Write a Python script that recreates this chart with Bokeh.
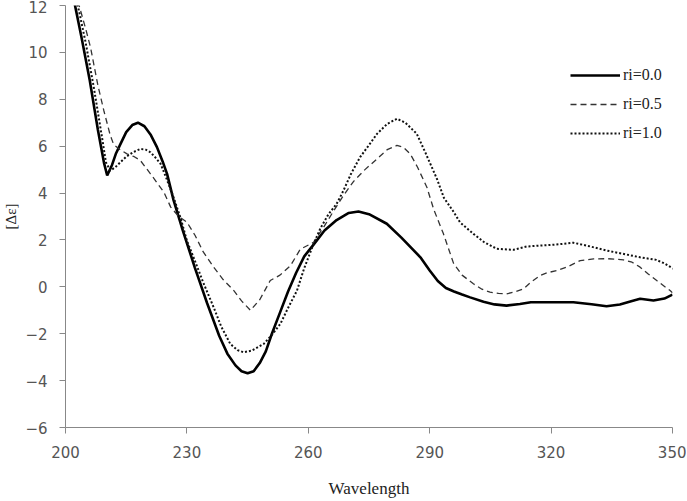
from bokeh.plotting import figure
from bokeh.models import Range1d, FixedTicker, Legend, LegendItem
from bokeh.embed import file_html
from bokeh.resources import INLINE

# r_i = 0.0 (solid)
x_r00 = [200, 202, 204, 206, 208, 209.5, 210.3, 211.5, 212.5, 213.6, 215, 216.5, 217.9, 219.5, 221,
         222.6, 224, 225.1, 226.7, 229,
         232, 235, 238, 240, 242, 243.5, 245, 246.5, 248, 249.5, 251, 253, 255, 257, 259, 261.3, 264, 267, 270,
         272.4, 275, 279.4, 283, 287.7, 290, 292, 294, 296, 298, 300, 303.3, 306, 309, 312.3, 315,
         317.3, 321, 325.5, 330, 333.7, 337, 340, 342, 345.3, 348, 350]
y_r00 = [14.0, 12.3, 10.6, 8.8, 6.7, 5.3, 4.75, 5.2, 5.7, 6.1, 6.6, 6.9, 7.0, 6.85, 6.5,
         5.96, 5.35, 4.82, 3.7, 2.4,
         0.8, -0.7, -2.1, -2.85, -3.35, -3.6, -3.69, -3.6, -3.25, -2.75, -2.0, -1.1, -0.2, 0.6, 1.3, 1.8, 2.4, 2.85, 3.15,
         3.21, 3.1, 2.69, 2.1, 1.26, 0.7, 0.25, -0.05, -0.2, -0.33, -0.45, -0.64, -0.75, -0.80, -0.73, -0.66,
         -0.66, -0.66, -0.66, -0.74, -0.83, -0.75, -0.6, -0.51, -0.58, -0.5, -0.33]

# r_i = 0.5 (dashed)
x_r05 = [200, 202, 203.7, 205, 206.2, 208, 209.5, 211, 211.9, 213.5, 215.2, 217, 218.5, 221, 224.3, 226, 228,
         230, 232, 234, 236.6, 239, 241.6, 243.5, 245.7, 248, 250.6, 253, 255.6, 258, 261.3, 264,
         266.3, 268.7, 271.2, 274, 277, 279.5, 281.9, 283.5, 285.2, 287, 289.3, 291, 293.4, 295.9,
         298, 300.8, 302.9, 304.9, 307, 309, 311, 313.2, 315, 317.3, 319, 321.4, 324, 327.2, 330.5,
         334, 337.9, 340, 342, 344, 346.1, 349.4, 350]
y_r05 = [13.8, 12.8, 11.8, 11.0, 10.2, 8.6, 7.5, 6.5, 6.07, 5.85, 5.67, 5.55, 5.39, 4.82, 4.04, 3.4, 3.0,
         2.76, 2.2, 1.5, 0.84, 0.3, -0.16, -0.6, -1.0, -0.55, 0.27, 0.5, 0.9, 1.6, 1.9, 2.6,
         3.25, 3.9, 4.5, 5.0, 5.46, 5.85, 6.03, 5.95, 5.67, 5.1, 4.25, 3.3, 2.26, 1.0,
         0.5, 0.13, -0.1, -0.23, -0.28, -0.30, -0.22, -0.09, 0.2, 0.48, 0.6, 0.69, 0.85, 1.12, 1.19,
         1.2, 1.15, 1.05, 0.84, 0.55, 0.27, -0.16, -0.25]

# r_i = 1.0 (dotted)
x_r10 = [200, 202, 203.3, 205, 207, 209, 210, 211.1, 212.3, 213.6, 215, 216.8, 218.5, 219.8, 221, 222.3, 223.5, 225,
         226.7, 228.5, 230, 232, 234, 236.6, 238.5, 240.7, 242.5, 244, 246, 249, 251, 253.1, 255,
         257.2, 259, 261.3, 263, 265, 267, 268.7, 270.5, 272.8, 275, 277, 279.5, 281.9, 284, 286.8,
         289, 291.8, 293.5, 295.9, 297.5, 300.8, 303.5, 306.6, 310.7, 314, 317.3, 321, 325.5, 329,
         333.7, 338, 342, 346, 348, 350.2]
y_r10 = [14.2, 12.6, 11.8, 10.4, 8.5, 6.4, 5.3, 4.96, 5.1, 5.32, 5.55, 5.75, 5.88, 5.85, 5.74, 5.5, 5.25, 4.6,
         3.82, 2.9, 1.97, 1.1, 0.2, -0.87, -1.7, -2.43, -2.7, -2.79, -2.72, -2.43, -2.05, -1.58, -0.9,
         -0.16, 0.8, 1.83, 2.5, 3.1, 3.54, 4.11, 4.8, 5.53, 6.05, 6.53, 6.95, 7.17, 7.0, 6.53,
         5.7, 4.6, 3.8, 3.2, 2.75, 2.26, 1.9, 1.62, 1.58, 1.72, 1.76, 1.8, 1.88, 1.75,
         1.55, 1.4, 1.26, 1.15, 1.0, 0.77]

labels = ["ri=0.0", "ri=0.5", "ri=1.0"]
x_ticks = [200, 230, 260, 290, 320, 350]
y_ticks = [-6, -4, -2, 0, 2, 4, 6, 8, 10, 12]

p = figure(width=686, height=500, output_backend="svg", toolbar_location=None,
           x_range=Range1d(200, 350), y_range=Range1d(-6, 12),
           min_border_left=65, min_border_right=14, min_border_top=5, min_border_bottom=73)
p.outline_line_color = None
p.xgrid.visible = False
p.ygrid.visible = False
p.background_fill_color = "white"

r0 = p.line(x_r00, y_r00, line_color="black", line_width=2.6)
r1 = p.line(x_r05, y_r05, line_color="#333333", line_width=1.3, line_dash="6 4")
r2 = p.line(x_r10, y_r10, line_color="#111111", line_width=2.0, line_dash="2 2")

for ax in (p.xaxis[0], p.yaxis[0]):
    ax.axis_line_color = "#888888"
    ax.major_tick_line_color = "#888888"
    ax.minor_tick_line_color = None
    ax.major_tick_out = 6
    ax.major_tick_in = 0
    ax.major_label_text_font = "DejaVu Sans"
    ax.major_label_text_font_size = "15px"
    ax.major_label_text_color = "#555555"
    ax.axis_label_text_font = "Liberation Serif"
    ax.axis_label_text_font_style = "normal"
    ax.axis_label_text_color = "#222222"

p.xaxis.ticker = FixedTicker(ticks=x_ticks)
p.yaxis.ticker = FixedTicker(ticks=y_ticks)
p.xaxis.major_label_standoff = 12
p.yaxis.major_label_standoff = 12
p.xaxis.axis_label = "Wavelength"
p.xaxis.axis_label_text_font_size = "17px"
p.xaxis.axis_label_standoff = 18
p.yaxis.axis_label = "[Δε]"
p.yaxis.axis_label_text_font_size = "15px"
p.yaxis.axis_label_standoff = 3

legend = Legend(items=[LegendItem(label=labels[0], renderers=[r0]),
                       LegendItem(label=labels[1], renderers=[r1]),
                       LegendItem(label=labels[2], renderers=[r2])],
                location=(505, 284), border_line_color=None, background_fill_alpha=0,
                padding=0, margin=0, spacing=9, glyph_width=50, glyph_height=20,
                label_text_font="Liberation Serif", label_text_font_size="16px",
                label_standoff=3, label_height=20, label_text_color="#222222")
p.add_layout(legend)

open("out.html", "w").write(file_html(p, INLINE))
